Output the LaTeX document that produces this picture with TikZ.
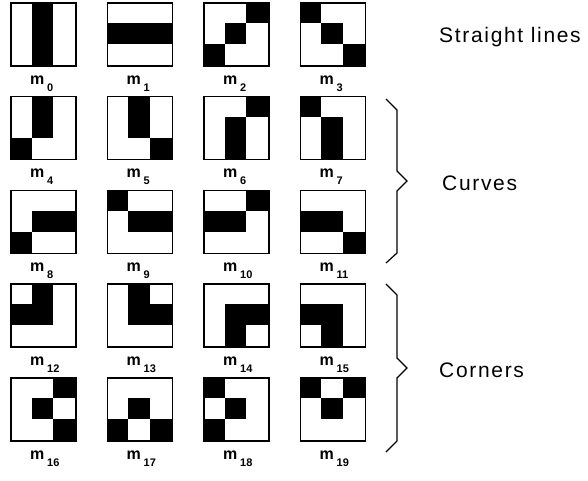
\documentclass[tikz,border=0pt]{standalone}
\usepackage{fontspec}
\setmainfont{Liberation Sans}
\newfontfamily\grpfont[LetterSpace=8]{Liberation Sans}
\begin{document}
\begin{tikzpicture}[x=1pt,y=-1pt,
  maskbox/.style={draw=black, line width=1.6pt, minimum width=65pt, minimum height=63pt,
    inner sep=0pt, anchor=north west},
  cellfill/.style={fill=black},
  mname/.style={font=\bfseries\fontsize{16}{16}\selectfont, inner sep=0pt, anchor=base west},
  mindex/.style={font=\bfseries\fontsize{11}{11}\selectfont, inner sep=0pt, anchor=base west},
  grouplabel/.style={font=\grpfont\fontsize{21}{21}\selectfont, inner sep=0pt, anchor=base west},
  bracepath/.style={line width=1.2pt, line join=miter}
]
\useasboundingbox (0,0) rectangle (588,480);

% 3x3 masks, cells listed row by row from the top, 1 = black
\foreach \idx/\pat in {
   0/{0,1,0,0,1,0,0,1,0},  1/{0,0,0,1,1,1,0,0,0},
   2/{0,0,1,0,1,0,1,0,0},  3/{1,0,0,0,1,0,0,0,1},
   4/{0,1,0,0,1,0,1,0,0},  5/{0,1,0,0,1,0,0,0,1},
   6/{0,0,1,0,1,0,0,1,0},  7/{1,0,0,0,1,0,0,1,0},
   8/{0,0,0,0,1,1,1,0,0},  9/{1,0,0,0,1,1,0,0,0},
  10/{0,0,1,1,1,0,0,0,0}, 11/{0,0,0,1,1,0,0,0,1},
  12/{0,1,0,1,1,0,0,0,0}, 13/{0,1,0,0,1,1,0,0,0},
  14/{0,0,0,0,1,1,0,1,0}, 15/{0,0,0,1,1,0,0,1,0},
  16/{0,0,1,0,1,0,0,0,1}, 17/{0,0,0,0,1,0,1,0,1},
  18/{1,0,0,0,1,0,1,0,0}, 19/{1,0,1,0,1,0,0,0,0}} {
  \pgfmathtruncatemacro\col{mod(\idx,4)}
  \pgfmathtruncatemacro\row{int(\idx/4)}
  \pgfmathsetmacro\X{10+96.5*\col}
  \pgfmathsetmacro\Y{2+93.75*\row}
  \foreach \b [count=\k from 0] in \pat {
    \pgfmathtruncatemacro\rr{int(\k/3)}
    \pgfmathtruncatemacro\cc{mod(\k,3)}
    \ifnum\b=1
      \fill[cellfill] (\X+\cc*65/3, \Y+\rr*21) rectangle ++(65/3, 21);
    \fi
  }
  \node[maskbox] (m\idx) at (\X,\Y) {};
  \node[mname] (lm\idx) at (\X+20, \Y+82) {m};
  \node[mindex] (li\idx) at (\X+37, \Y+89) {\idx};
}

% braces grouping the rows
\draw[bracepath] (386,99) -- (397,110) -- (397,171) -- (407,181)
  -- (397,191) -- (397,253) -- (386,263);
\draw[bracepath] (386,284) -- (397,295) -- (397,358) -- (407,368)
  -- (397,378) -- (397,441) -- (386,452);

\node[grouplabel] (straight) at (439,42) {Straight lines};
\node[grouplabel] (curves) at (442,190) {Curves};
\node[grouplabel] (corners) at (439,377) {Corners};
\end{tikzpicture}
\end{document}
